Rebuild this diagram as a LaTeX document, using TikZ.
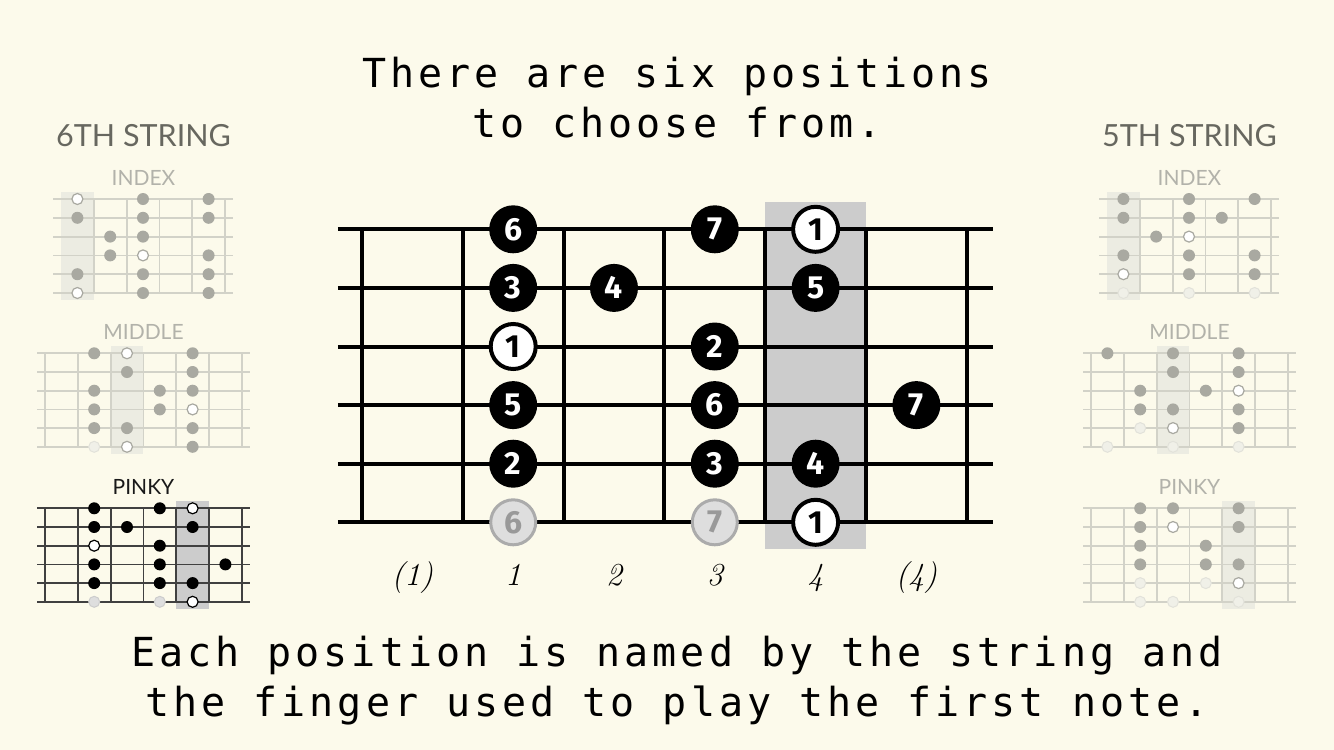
\documentclass[tikz,border=0pt]{standalone}
\usepackage{fontspec}
\usepackage{xcolor}
\newfontfamily\monofont[LetterSpace=10]{DejaVu Sans Mono}
\newfontfamily\headfont{Lato}
\newfontfamily\digitfont{Fira Sans}
\definecolor{paper}{HTML}{FCFAEB}
\definecolor{fadeline}{HTML}{D2D2C8}
\definecolor{fadedot}{HTML}{A9A9A1}
\definecolor{fadebox}{HTML}{ECECE2}
\definecolor{ghostfill}{HTML}{F0F0E8}
\definecolor{ghostline}{HTML}{E2E2DA}
\definecolor{headgrey}{HTML}{67675F}
\definecolor{subgrey}{HTML}{B2B2AA}
\definecolor{boxgrey}{HTML}{CCCCCC}
\usetikzlibrary{positioning}

\begin{document}
\begin{tikzpicture}[
  x=1pt, y=-1pt,
  note/.style={anchor=base, inner sep=0pt, font=\monofont\fontsize{40}{50}\selectfont},
  head/.style={anchor=base, inner sep=0pt, text=headgrey, font=\headfont\fontsize{30.5}{30}\selectfont},
  sub/.style={anchor=base, inner sep=0pt, text=subgrey, font=\headfont\fontsize{21}{21}\selectfont},
  fret/.style={line width=4pt, draw=black},
  fingerdot/.style={circle, minimum size=48pt, inner sep=0pt, fill=black, text=white,
                    font=\digitfont\bfseries\fontsize{32}{32}\selectfont},
  rootdot/.style={fingerdot, minimum size=45pt, fill=white, draw=black, line width=4pt, text=black},
  ghostdot/.style={fingerdot, minimum size=45pt, fill=black!13, draw=black!33, line width=3pt, text=black!40},
  fingerlabel/.style={anchor=base, inner sep=0pt, font=\itshape\fontsize{32}{32}\selectfont},
  miniline/.style={line width=1.8pt, draw=fadeline},
  minidot/.style={fill=fadedot},
  minihollow/.style={fill=white, draw=fadedot, line width=1.2pt},
  minighost/.style={fill=ghostfill, draw=ghostline, line width=1pt}
]
\fill[paper] (0,0) rectangle (1334,750);

% text
\node[note] (title1) at (677,87) {There are six positions};
\node[note] (title2) at (677,137) {to choose from.};
\node[note] (foot1) at (677,666) {Each position is named by the string and};
\node[note] (foot2) at (677,716) {the finger used to play the first note.};

\node[head] (six) at (143.5,146) {6TH STRING};
\node[sub] (sixindex) at (143.5,185) {INDEX};
\node[sub] (sixmiddle) at (143.5,339) {MIDDLE};
\node[sub, text=black!90] (sixpinky) at (143.5,494) {PINKY};
\node[head] (five) at (1189.5,146) {5TH STRING};
\node[sub] (fiveindex) at (1189.5,185) {INDEX};
\node[sub] (fivemiddle) at (1189.5,339) {MIDDLE};
\node[sub] (fivepinky) at (1189.5,494) {PINKY};

% main fretboard
\begin{scope}[shift={(362,229.3)}, x=100.8pt, y=-58.6pt]
  \fill[boxgrey] (4,-0.46) rectangle (5,5.46);
  \foreach \s in {0,...,5} \draw[fret] (-0.24,\s) -- (6.26,\s);
  \foreach \f in {0,...,6} \draw[fret] (\f,0) -- (\f,5);
  \node[fingerdot] (s1c1) at (1.5,0) {6};
  \node[fingerdot] (s1c3) at (3.5,0) {7};
  \node[rootdot]   (s1c4) at (4.5,0) {1};
  \node[fingerdot] (s2c1) at (1.5,1) {3};
  \node[fingerdot] (s2c2) at (2.5,1) {4};
  \node[fingerdot] (s2c4) at (4.5,1) {5};
  \node[rootdot]   (s3c1) at (1.5,2) {1};
  \node[fingerdot] (s3c3) at (3.5,2) {2};
  \node[fingerdot] (s4c1) at (1.5,3) {5};
  \node[fingerdot] (s4c3) at (3.5,3) {6};
  \node[fingerdot] (s4c5) at (5.5,3) {7};
  \node[fingerdot] (s5c1) at (1.5,4) {2};
  \node[fingerdot] (s5c3) at (3.5,4) {3};
  \node[fingerdot] (s5c4) at (4.5,4) {4};
  \node[ghostdot]  (s6c1) at (1.5,5) {6};
  \node[ghostdot]  (s6c3) at (3.5,5) {7};
  \node[rootdot]   (s6c4) at (4.5,5) {1};
  \node[fingerlabel] (pos0) at (0.5,6.07) {(1)};
  \node[fingerlabel] (pos1) at (1.5,6.07) {1};
  \node[fingerlabel] (pos2) at (2.5,6.07) {2};
  \node[fingerlabel] (pos3) at (3.5,6.07) {3};
  \node[fingerlabel] (pos4) at (4.5,6.07) {4};
  \node[fingerlabel] (pos5) at (5.5,6.07) {(4)};
\end{scope}

% 6th string, index
\begin{scope}[shift={(61,199)}, x=32.8pt, y=-18.8pt]
  \fill[fadebox] (0,-0.37) rectangle (1,5.37);
  \foreach \s in {0,...,5} \draw[miniline] (-0.24,\s) -- (5.25,\s);
  \foreach \f in {1,...,5} \draw[miniline] (\f,0) -- (\f,5);
  \foreach \c/\s in {2/0,4/0,0/1,2/1,4/1,1/2,2/2,1/3,4/3,0/4,2/4,4/4,2/5,4/5}
    \fill[minidot] (\c+0.5,\s) circle (6pt);
  \foreach \c/\s in {0/0,2/3,0/5} \filldraw[minihollow] (\c+0.5,\s) circle (5.5pt);
\end{scope}

% 6th string, middle
\begin{scope}[shift={(45,353.3)}, x=32.8pt, y=-18.7pt]
  \fill[fadebox] (2,-0.37) rectangle (3,5.37);
  \foreach \s in {0,...,5} \draw[miniline] (-0.24,\s) -- (6.25,\s);
  \foreach \f in {0,...,6} \draw[miniline] (\f,0) -- (\f,5);
  \foreach \c/\s in {1/0,4/0,2/1,4/1,1/2,3/2,4/2,1/3,3/3,1/4,2/4,4/4,4/5}
    \fill[minidot] (\c+0.5,\s) circle (6pt);
  \foreach \c/\s in {2/0,4/3,2/5} \filldraw[minihollow] (\c+0.5,\s) circle (5.5pt);
  \filldraw[minighost] (1.5,5) circle (5.5pt);
\end{scope}

% 6th string, pinky
\begin{scope}[shift={(45,508.3)}, x=32.8pt, y=-18.7pt]
  \fill[boxgrey] (4,-0.37) rectangle (5,5.37);
  \foreach \s in {0,...,5} \draw[miniline, draw=black!75] (-0.24,\s) -- (6.25,\s);
  \foreach \f in {0,...,6} \draw[miniline, draw=black!75] (\f,0) -- (\f,5);
  \foreach \c/\s in {1/0,3/0,1/1,2/1,4/1,3/2,1/3,3/3,5/3,1/4,3/4,4/4}
    \fill[black] (\c+0.5,\s) circle (6pt);
  \foreach \c/\s in {4/0,1/2,4/5} \filldraw[minihollow, draw=black] (\c+0.5,\s) circle (5.5pt);
  \foreach \c/\s in {1/5,3/5} \filldraw[minighost, fill=black!13, draw=black!20] (\c+0.5,\s) circle (5.5pt);
\end{scope}

% 5th string, index
\begin{scope}[shift={(1107,199)}, x=32.8pt, y=-18.8pt]
  \fill[fadebox] (0,-0.37) rectangle (1,5.37);
  \foreach \s in {0,...,5} \draw[miniline] (-0.24,\s) -- (5.25,\s);
  \foreach \f in {1,...,5} \draw[miniline] (\f,0) -- (\f,5);
  \foreach \c/\s in {0/0,2/0,4/0,0/1,2/1,3/1,1/2,0/3,2/3,4/3,2/4,4/4}
    \fill[minidot] (\c+0.5,\s) circle (6pt);
  \foreach \c/\s in {2/2,0/4} \filldraw[minihollow] (\c+0.5,\s) circle (5.5pt);
  \foreach \c/\s in {0/5,2/5,4/5} \filldraw[minighost] (\c+0.5,\s) circle (5.5pt);
\end{scope}

% 5th string, middle
\begin{scope}[shift={(1091,353.3)}, x=32.8pt, y=-18.7pt]
  \fill[fadebox] (2,-0.37) rectangle (3,5.37);
  \foreach \s in {0,...,5} \draw[miniline] (-0.24,\s) -- (6.25,\s);
  \foreach \f in {0,...,6} \draw[miniline] (\f,0) -- (\f,5);
  \foreach \c/\s in {0/0,2/0,4/0,2/1,4/1,1/2,3/2,1/3,2/3,4/3,4/4}
    \fill[minidot] (\c+0.5,\s) circle (6pt);
  \foreach \c/\s in {4/2,2/4} \filldraw[minihollow] (\c+0.5,\s) circle (5.5pt);
  \foreach \c/\s in {1/4,0/5,2/5,4/5} \filldraw[minighost] (\c+0.5,\s) circle (5.5pt);
\end{scope}

% 5th string, pinky
\begin{scope}[shift={(1091,508.3)}, x=32.8pt, y=-18.7pt]
  \fill[fadebox] (4,-0.37) rectangle (5,5.37);
  \foreach \s in {0,...,5} \draw[miniline] (-0.24,\s) -- (6.25,\s);
  \foreach \f in {0,...,6} \draw[miniline] (\f,0) -- (\f,5);
  \foreach \c/\s in {1/0,2/0,4/0,1/1,4/1,1/2,3/2,1/3,3/3,4/3}
    \fill[minidot] (\c+0.5,\s) circle (6pt);
  \foreach \c/\s in {2/1,4/4} \filldraw[minihollow] (\c+0.5,\s) circle (5.5pt);
  \foreach \c/\s in {1/4,3/4,1/5,2/5,4/5} \filldraw[minighost] (\c+0.5,\s) circle (5.5pt);
\end{scope}
\end{tikzpicture}
\end{document}
